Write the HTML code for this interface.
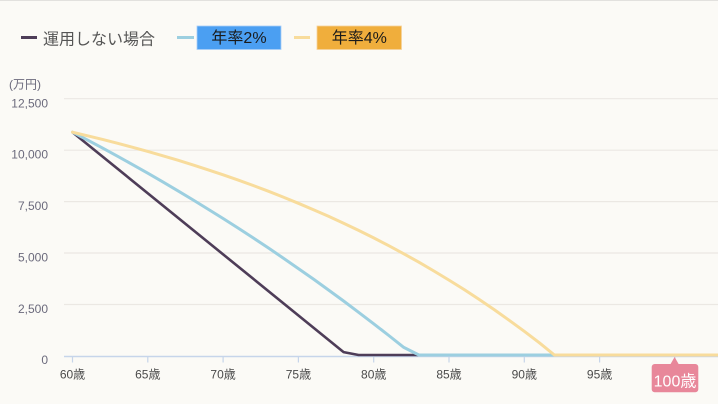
<!DOCTYPE html>
<html>
<head>
<meta charset="utf-8">
<style>
  html,body{margin:0;padding:0;background:#fbfaf6;}
  body{width:718px;height:404px;overflow:hidden;}
  svg{display:block;}
  text{font-family:"Liberation Sans","Noto Sans CJK JP",sans-serif;}
</style>
</head>
<body>
<svg width="718" height="404" viewBox="0 0 718 404" xmlns="http://www.w3.org/2000/svg">
  <rect x="0" y="0" width="718" height="404" fill="#fbfaf6"/>
  <rect x="0" y="0" width="718" height="1" fill="#e2e1de"/>

  <!-- Legend -->
  <line x1="21" y1="37.5" x2="37" y2="37.5" stroke="#4e3d58" stroke-width="3"/>
  <text x="43" y="44.5" font-size="16" fill="#555555">運用しない場合</text>

  <line x1="177" y1="37.5" x2="194" y2="37.5" stroke="#9ccfe0" stroke-width="3"/>
  <rect x="197" y="26" width="84" height="23.5" fill="#4b9ff2" stroke="#a9cff8" stroke-width="0.8"/>
  <text x="239" y="42.8" font-size="16" fill="#1a1a1a" text-anchor="middle">年率2%</text>

  <line x1="294" y1="37.5" x2="310" y2="37.5" stroke="#f8dc9c" stroke-width="3"/>
  <rect x="317" y="26" width="84.5" height="23.5" fill="#f0ae3c" stroke="#f6d39a" stroke-width="0.8"/>
  <text x="359.3" y="42.8" font-size="16" fill="#1a1a1a" text-anchor="middle">年率4%</text>

  <!-- Y unit -->
  <text x="9" y="88.5" font-size="12" fill="#6b6a7c">(万円)</text>

  <!-- Gridlines -->
  <g stroke="#ebe8e3" stroke-width="1.2">
    <line x1="64" y1="98.7" x2="718" y2="98.7"/>
    <line x1="64" y1="150.2" x2="718" y2="150.2"/>
    <line x1="64" y1="201.6" x2="718" y2="201.6"/>
    <line x1="64" y1="253" x2="718" y2="253"/>
    <line x1="64" y1="304.5" x2="718" y2="304.5"/>
  </g>

  <!-- Y labels -->
  <g font-size="12" fill="#6b6a7c" text-anchor="end">
    <text x="48" y="107.5">12,500</text>
    <text x="48" y="158.7">10,000</text>
    <text x="48" y="210">7,500</text>
    <text x="48" y="261.4">5,000</text>
    <text x="48" y="312.9">2,500</text>
    <text x="48" y="364">0</text>
  </g>

  <!-- X axis -->
  <line x1="64" y1="356.5" x2="718" y2="356.5" stroke="#c6d5ea" stroke-width="1.5"/>
  <g stroke="#c6d5ea" stroke-width="1.2">
    <line x1="72.5" y1="356" x2="72.5" y2="362.5"/>
    <line x1="147.8" y1="356" x2="147.8" y2="362.5"/>
    <line x1="223.1" y1="356" x2="223.1" y2="362.5"/>
    <line x1="298.4" y1="356" x2="298.4" y2="362.5"/>
    <line x1="373.7" y1="356" x2="373.7" y2="362.5"/>
    <line x1="449" y1="356" x2="449" y2="362.5"/>
    <line x1="524.3" y1="356" x2="524.3" y2="362.5"/>
    <line x1="599.6" y1="356" x2="599.6" y2="362.5"/>
    <line x1="674.9" y1="356" x2="674.9" y2="362.5"/>
  </g>
  <g font-size="12" fill="#4a4a4a" text-anchor="middle">
    <text x="72.5" y="378.5">60歳</text>
    <text x="147.8" y="378.5">65歳</text>
    <text x="223.1" y="378.5">70歳</text>
    <text x="298.4" y="378.5">75歳</text>
    <text x="373.7" y="378.5">80歳</text>
    <text x="449" y="378.5">85歳</text>
    <text x="524.3" y="378.5">90歳</text>
    <text x="599.6" y="378.5">95歳</text>
  </g>

  <!-- Series: no investment -->
  <polyline fill="none" stroke="#4e3d58" stroke-width="2.6" stroke-linejoin="round" stroke-linecap="round"
    points="72.5,132.2 343.6,352.1 358.6,355 718,355"/>

  <!-- Series: 2% -->
  <polyline fill="none" stroke="#9ccfe0" stroke-width="3" stroke-linejoin="round" stroke-linecap="round"
    points="72.5,132.2 87.6,140.1 102.6,148.1 117.7,156.3 132.7,164.7 147.8,173.2 162.9,181.9 177.9,190.8 193.0,199.9 208.0,209.1 223.1,218.5 238.2,228.1 253.2,237.9 268.3,247.9 283.3,258.1 298.4,268.6 313.5,279.1 328.5,290.0 343.6,301.0 358.6,312.3 373.7,323.8 388.8,335.5 403.8,347.4 418.9,355 718,355"/>

  <!-- Series: 4% -->
  <polyline fill="none" stroke="#f8dc9c" stroke-width="3" stroke-linejoin="round" stroke-linecap="round"
    points="72.5,132.2 87.6,135.8 102.6,139.4 117.7,143.3 132.7,147.3 147.8,151.4 162.9,155.8 177.9,160.2 193.0,164.9 208.0,169.8 223.1,174.8 238.2,180.1 253.2,185.5 268.3,191.2 283.3,197.1 298.4,203.3 313.5,209.7 328.5,216.3 343.6,223.2 358.6,230.4 373.7,237.9 388.8,245.7 403.8,253.8 418.9,262.2 433.9,271.0 449.0,280.1 464.1,289.5 479.1,299.4 494.2,309.6 509.2,320.3 524.3,331.3 539.4,342.8 554.4,355 718,355"/>

  <!-- 100歳 badge -->
  <polygon points="674.6,357 670.3,364.5 678.9,364.5" fill="#e8879a"/>
  <rect x="651.7" y="364" width="46.6" height="28.3" rx="3" ry="3" fill="#e8879a"/>
  <text x="675" y="386.5" font-size="16" fill="#ffffff" text-anchor="middle">100歳</text>
</svg>
</body>
</html>
